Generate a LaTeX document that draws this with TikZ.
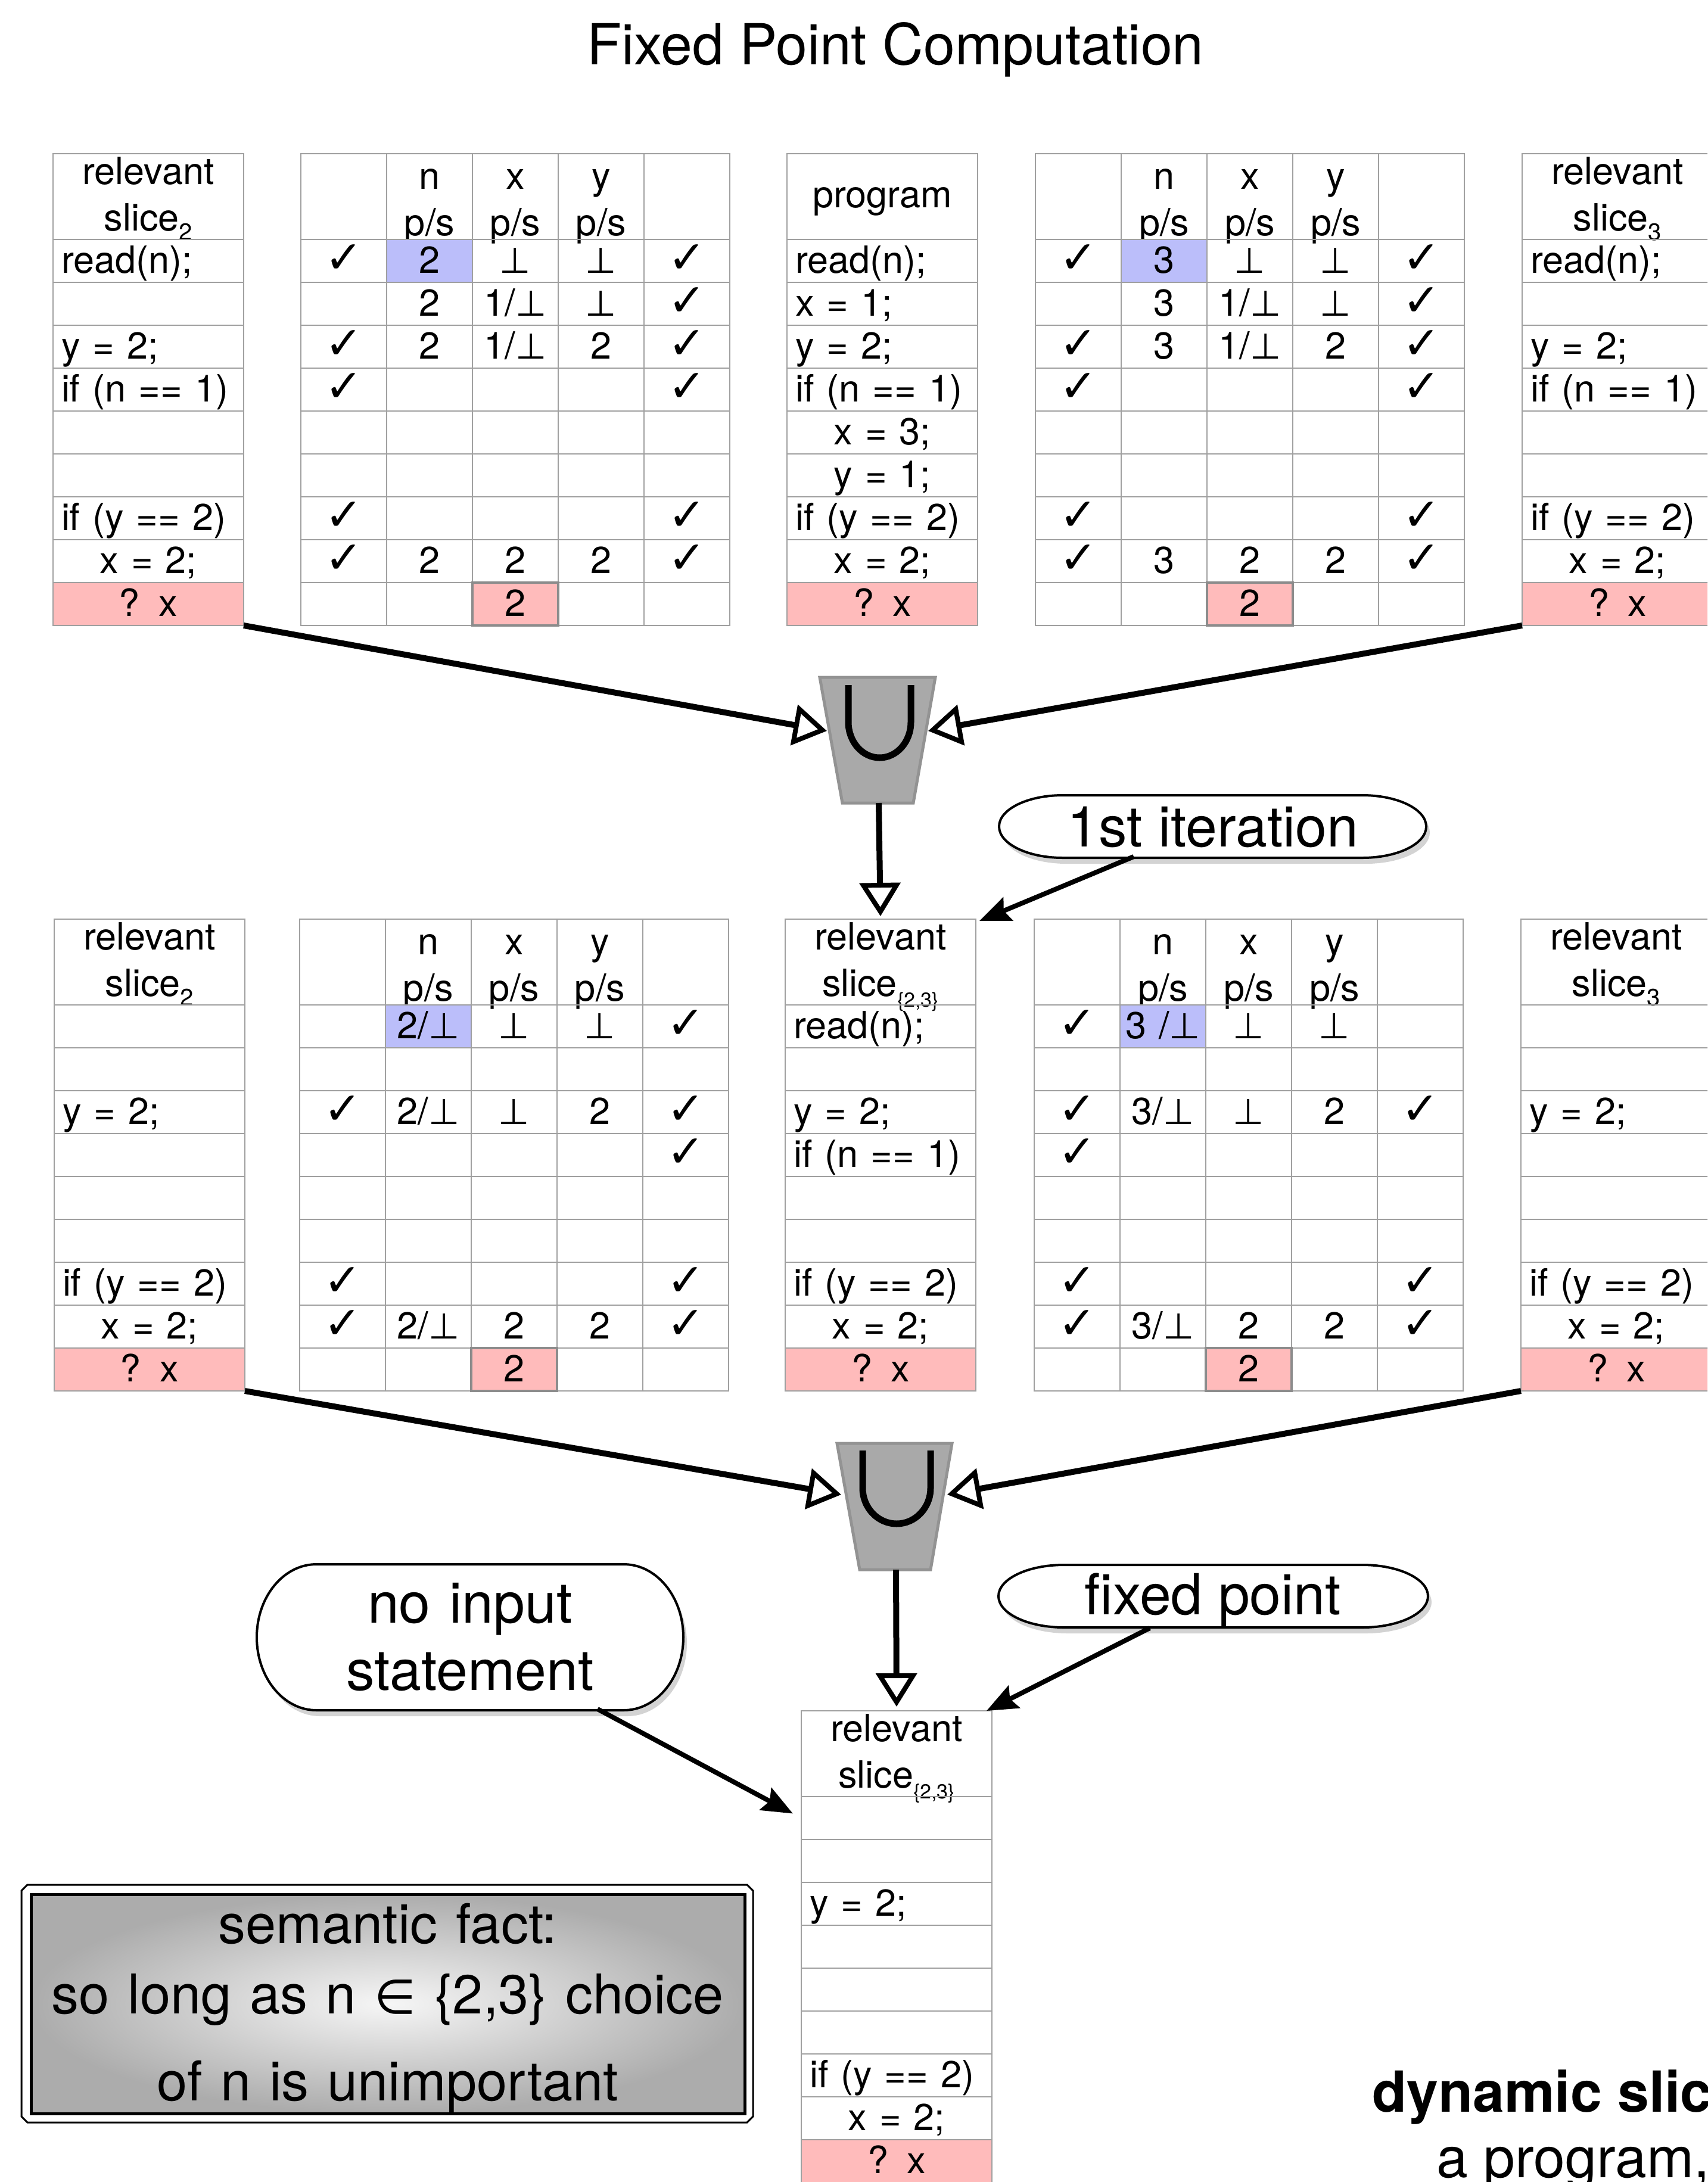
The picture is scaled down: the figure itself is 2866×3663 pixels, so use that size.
\documentclass[tikz,border=0pt]{standalone}
\usepackage{fontspec}
\setmainfont{TeX Gyre Heros}
\newfontfamily\djv{DejaVu Sans}
\usetikzlibrary{arrows.meta,shadows}
\definecolor{gridc}{HTML}{A0A0A0}
\definecolor{bluec}{HTML}{BBBEFA}
\definecolor{pinkc}{HTML}{FFBBBB}
\definecolor{pinkb}{HTML}{8C8C8C}
\definecolor{unionc}{HTML}{A9A9A9}
\definecolor{unionb}{HTML}{939393}
\definecolor{semin}{HTML}{F6F6F6}
\definecolor{semout}{HTML}{ACACAC}
\newcommand\cmk{{\djv\fontsize{38}{38}\selectfont ✓}}
\newcommand\bbot{{\djv\fontsize{30}{30}\selectfont ⊥}}
\newcommand\oneb{1/\bbot}
\newcommand\twob{2/\bbot}
\newcommand\threeb{3/\bbot}
\newcommand\subsc[1]{\raisebox{-8pt}{\fontsize{20}{20}\selectfont #1}}
\newcommand\subss[1]{\raisebox{-9pt}{\fontsize{17}{17}\selectfont #1}}
\tikzset{
  tfont/.style={font=\fontsize{31.5}{39}\selectfont},
  bigfont/.style={font=\fontsize{47.5}{59}\selectfont},
  cellbase/.style={draw=gridc, line width=1.25pt, inner xsep=7pt, inner ysep=0pt, outer sep=0pt, anchor=north west, tfont},
  rowc/.style={cellbase, minimum height=36pt, text height=28pt, text depth=8pt},
  hdr/.style={cellbase, minimum height=72pt, align=center},
  slh/.style={text height=25.5pt, text depth=46.5pt},
  prh/.style={text height=45pt, text depth=27pt},
  grh/.style={text height=29.5pt, text depth=42.5pt},
  wide/.style={text width=146pt},
  narrow/.style={text width=68pt, inner xsep=2pt},
  lft/.style={align=left},
  ctr/.style={align=center},
  pnk/.style={align=center, fill=pinkc},
  mainarrow/.style={line width=5pt, -{Triangle[fill=white, line width=4pt, length=28pt, width=34pt]}},
  calarrow/.style={line width=4pt, -{Stealth[length=26pt, width=21pt, inset=4pt]}},
  calshape/.style={draw=black, line width=2pt, fill=white, drop shadow={shadow xshift=3pt, shadow yshift=-5pt, opacity=0.35}},
  unionshape/.style={fill=unionc, draw=unionb, line width=2.5pt},
  cupline/.style={line width=5.5pt},
}
\newcommand\slicetab[6]{%
  \node[hdr,wide,#4] (#1-0) at (#2,#3) {#5};
  \foreach[count=\i] \st/\tx in {#6}{%
    \node[rowc,wide,\st] (#1-\i) at (#2,{#3+144+72*(\i-1)}) {\tx};
  }%
}
\newcommand\gridtab[5]{%
  \node[hdr,narrow,grh] (#1-h1) at (#2,#3) {};
  \node[hdr,narrow,grh] (#1-h2) at (#2+144,#3) {n\\p/s};
  \node[hdr,narrow,grh] (#1-h3) at (#2+288,#3) {x\\p/s};
  \node[hdr,narrow,grh] (#1-h4) at (#2+432,#3) {y\\p/s};
  \node[hdr,narrow,grh] (#1-h5) at (#2+576,#3) {};
  \foreach[count=\i] \qa/\qb/\qc/\qd/\qe in {#5}{%
    \node[rowc,narrow,ctr] (#1-\i-1) at (#2,{#3+144+72*(\i-1)}) {\qa};
    \node[rowc,narrow,ctr] (#1-\i-2) at ({#2+144},{#3+144+72*(\i-1)}) {\qb};
    \node[rowc,narrow,ctr] (#1-\i-3) at ({#2+288},{#3+144+72*(\i-1)}) {\qc};
    \node[rowc,narrow,ctr] (#1-\i-4) at ({#2+432},{#3+144+72*(\i-1)}) {\qd};
    \node[rowc,narrow,ctr] (#1-\i-5) at ({#2+576},{#3+144+72*(\i-1)}) {\qe};
  }%
  \node[rowc,narrow,ctr,fill=bluec] (#1-b) at (#2+144,#3+144) {#4};
  \node[rowc,narrow,ctr,fill=pinkc,draw=pinkb,line width=1.75pt] (#1-p) at (#2+288,#3+720) {2};
}
\newcommand\calshapecmd[5]{%
  \path[calshape] ({#1+#5},#2) -- ({#3-#5},#2)
    arc[start angle=90, end angle=-90, x radius={#5*0.5pt}, y radius={(#4-#2)*0.25pt}]
    -- ({#1+#5},#4)
    arc[start angle=270, end angle=90, x radius={#5*0.5pt}, y radius={(#4-#2)*0.25pt}] -- cycle;}
\begin{document}
\begin{tikzpicture}[x=0.5pt,y=-0.5pt]
\useasboundingbox (0,0) rectangle (2866,3663);
\clip (0,0) rectangle (2866,3663);
\node[bigfont, anchor=base] (title) at (1503,108) {Fixed Point Computation};

% ---------- top row ----------
\slicetab{s1}{89}{258}{slh}{relevant\\slice\subsc{2}}{lft/read(n);, lft/, lft/y = 2;, lft/if (n == 1), lft/, lft/, lft/if (y == 2), ctr/x = 2;, pnk/? x}
\gridtab{g1}{505}{258}{2}{\cmk//\bbot/\bbot/\cmk, /2/\oneb/\bbot/\cmk, \cmk/2/\oneb/2/\cmk, \cmk////\cmk, ////, ////, \cmk////\cmk, \cmk/2/2/2/\cmk, ////}
\slicetab{s2}{1321}{258}{prh}{program}{lft/read(n);, lft/x = 1;, lft/y = 2;, lft/if (n == 1), ctr/x = 3;, ctr/y = 1;, lft/if (y == 2), ctr/x = 2;, pnk/? x}
\gridtab{g2}{1738}{258}{3}{\cmk//\bbot/\bbot/\cmk, /3/\oneb/\bbot/\cmk, \cmk/3/\oneb/2/\cmk, \cmk////\cmk, ////, ////, \cmk////\cmk, \cmk/3/2/2/\cmk, ////}
\slicetab{s3}{2555}{258}{slh}{relevant\\slice\subsc{3}}{lft/read(n);, lft/, lft/y = 2;, lft/if (n == 1), lft/, lft/, lft/if (y == 2), ctr/x = 2;, pnk/? x}

% ---------- middle row ----------
\slicetab{s4}{91}{1543}{slh}{relevant\\slice\subsc{2}}{lft/, lft/, lft/y = 2;, lft/, lft/, lft/, lft/if (y == 2), ctr/x = 2;, pnk/? x}
\gridtab{g3}{503}{1543}{\twob}{//\bbot/\bbot/\cmk, ////, \cmk/\twob/\bbot/2/\cmk, ////\cmk, ////, ////, \cmk////\cmk, \cmk/\twob/2/2/\cmk, ////}
\slicetab{s5}{1318}{1543}{slh}{relevant\\slice\subss{\{2,3\}}}{lft/read(n);, lft/, lft/y = 2;, lft/if (n == 1), lft/, lft/, lft/if (y == 2), ctr/x = 2;, pnk/? x}
\gridtab{g4}{1736}{1543}{\mbox{3 /\bbot}}{\cmk//\bbot/\bbot/, ////, \cmk/\threeb/\bbot/2/\cmk, \cmk////, ////, ////, \cmk////\cmk, \cmk/\threeb/2/2/\cmk, ////}
\slicetab{s6}{2553}{1543}{slh}{relevant\\slice\subsc{3}}{lft/, lft/, lft/y = 2;, lft/, lft/, lft/, lft/if (y == 2), ctr/x = 2;, pnk/? x}

% ---------- bottom table ----------
\slicetab{s7}{1345}{2872}{slh}{relevant\\slice\subss{\{2,3\}}}{lft/, lft/, lft/y = 2;, lft/, lft/, lft/, lft/if (y == 2), ctr/x = 2;, pnk/? x}

% ---------- union operators ----------
\draw[unionshape] (1376,1137) -- (1570,1137) -- (1533,1348) -- (1414,1348) -- cycle;
\draw[cupline] (1424,1150) -- (1424,1212) arc[start angle=180, end angle=360, x radius=26.25pt, y radius=30pt] -- (1529,1150);
\draw[unionshape] (1405,2423) -- (1598,2423) -- (1562,2635) -- (1443,2635) -- cycle;
\draw[cupline] (1448,2435) -- (1448,2498) arc[start angle=180, end angle=360, x radius=28.5pt, y radius=30pt] -- (1562,2435);
\coordinate (u1l) at (1388,1227);
\coordinate (u1r) at (1558,1227);
\coordinate (u1b) at (1475,1348);
\coordinate (u2l) at (1412,2509);
\coordinate (u2r) at (1590,2509);
\coordinate (u2b) at (1504,2635);

\draw[mainarrow] (s1-9.south east) -- (u1l);
\draw[mainarrow] (s3-9.south west) -- (u1r);
\draw[mainarrow, shorten >=2.5pt] (u1b) -- (s5-0.north);
\draw[mainarrow] (s4-9.south east) -- (u2l);
\draw[mainarrow] (s6-9.south west) -- (u2r);
\draw[mainarrow, shorten >=3.5pt] (u2b) -- (s7-0.north);

% ---------- callouts ----------
\calshapecmd{1677}{1335}{2394}{1440}{107}
\node[bigfont, anchor=base] (c1) at (2036,1421) {1st iteration};
\coordinate (c1a) at (1903,1438);
\draw[calarrow] (c1a) -- ([xshift=3pt,yshift=-1.5pt]s5-0.north east);

\calshapecmd{1676}{2627}{2397}{2732}{110}
\node[bigfont, anchor=base] (c2) at (2036,2710) {fixed point};
\coordinate (c2a) at (1930,2733);
\draw[calarrow] (c2a) -- ([xshift=-4.5pt]s7-0.north east);

\calshapecmd{431}{2626}{1147}{2871}{100}
\node[font=\fontsize{47.5}{56.5}\selectfont, anchor=base, text width=330pt, align=center] (c3) at (789,2724) {no input\\statement};
\coordinate (c3a) at (1003,2869);
\draw[calarrow, shorten >=8pt] (c3a) -- (s7-1.west);

% ---------- semantic fact box ----------
\draw[line width=1.5pt] (46,3164) -- (1254,3164) -- (1264,3174) -- (1264,3553) -- (1254,3563) -- (46,3563) -- (36,3553) -- (36,3174) -- cycle;
\node[draw, line width=2.5pt, inner color=semin, outer color=semout, minimum width=599pt, minimum height=184pt, inner sep=0pt] (semb) at (651,3364) {};
\node[font=\fontsize{46}{59}\selectfont, anchor=base, text width=590pt, align=center] (semt) at (651,3262) {semantic fact:\\so long as n {\djv\fontsize{40}{40}\selectfont ∈} \{2,3\} choice\\[14pt]of n is unimportant};

% ---------- clipped caption ----------
\node[font=\fontsize{47.5}{59}\selectfont\bfseries, anchor=base west, inner sep=0pt] (dyn) at (2303,3545) {dynamic slic};
\node[bigfont, anchor=base west, inner sep=0pt] (prg) at (2411,3655) {a program,};
\end{tikzpicture}
\end{document}
